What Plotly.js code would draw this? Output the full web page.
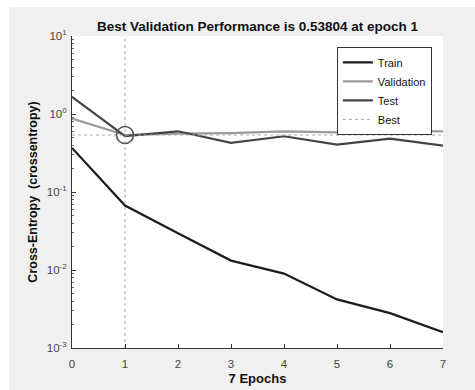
<!DOCTYPE html>
<html><head><meta charset="utf-8">
<script src="https://cdn.plot.ly/plotly-3.0.1.min.js"></script>
<style>
html,body{margin:0;padding:0;background:#ffffff;}
#chart{position:absolute;left:9px;top:7px;width:466px;height:383px;}
</style></head>
<body><div id="chart"></div>
<script>
const epochs = [0,1,2,3,4,5,6,7];
const train = [0.367,0.067,0.0296,0.0132,0.0090,0.0042,0.0028,0.00159];
const validation = [0.875,0.53804,0.56,0.57,0.60,0.58,0.61,0.60];
const test = [1.66,0.52,0.60,0.426,0.518,0.405,0.484,0.393];
const bestEpoch = 1;
const bestValue = 0.53804;
const yTickVals = [0.001,0.01,0.1,1,10];
const yTickText = ['10<sup>-3</sup>','10<sup>-2</sup>','10<sup>-1</sup>','10<sup>0</sup>','10<sup>1</sup>'];
const yMinorVals = [0.002,0.003,0.004,0.005,0.006,0.007,0.008,0.009,
  0.02,0.03,0.04,0.05,0.06,0.07,0.08,0.09,
  0.2,0.3,0.4,0.5,0.6,0.7,0.8,0.9,
  2,3,4,5,6,7,8,9];
const xTickVals = [0,1,2,3,4,5,6,7];

const traces = [
  {x:epochs,y:train,name:'Train',mode:'lines',line:{color:'#1c1c1c',width:2.2}},
  {x:epochs,y:validation,name:'Validation',mode:'lines',line:{color:'#9a9a9a',width:2.2}},
  {x:epochs,y:test,name:'Test',mode:'lines',line:{color:'#444444',width:2.2}},
  {x:[0,7],y:[bestValue,bestValue],name:'Best',mode:'lines',line:{color:'#aaaaaa',width:1,dash:'dot'}},
  {x:[bestEpoch,bestEpoch],y:[0.001,10],showlegend:false,mode:'lines',line:{color:'#aaaaaa',width:1,dash:'dot'},hoverinfo:'skip'},
  {x:[bestEpoch],y:[bestValue],showlegend:false,mode:'markers',marker:{symbol:'circle-open',size:17,color:'#555555',line:{width:1.6,color:'#555555'}}}
];

const layout = {
  width:466,height:383,
  paper_bgcolor:'#f0f0f0',plot_bgcolor:'#ffffff',
  margin:{l:63,r:32,t:29,b:42},
  font:{family:'Liberation Sans, Arial, sans-serif',color:'#262626'},
  title:{text:'<b>Best Validation Performance is 0.53804 at epoch 1</b>',font:{size:13.5,color:'#111111'},x:0.5,xref:'paper',xanchor:'center',y:0.95,yref:'container',yanchor:'middle'},
  xaxis:{range:[0,7],tickvals:xTickVals,ticks:'inside',ticklen:4,tickcolor:'#333',showline:true,linecolor:'#333',linewidth:1,showgrid:false,zeroline:false,
    tickfont:{size:11.5,color:'#444'},ticklabelstandoff:5,
    title:{text:'<b>7 Epochs</b>',font:{size:13,color:'#111'},standoff:5}},
  yaxis:{type:'log',range:[-3,1],tickvals:yTickVals,ticktext:yTickText,ticks:'inside',ticklen:4,tickcolor:'#333',showline:true,linecolor:'#333',linewidth:1,showgrid:false,zeroline:false,
    minor:{tickmode:'array',tickvals:yMinorVals,ticks:'inside',ticklen:2,tickcolor:'#666',showgrid:false},
    tickfont:{size:11.5,color:'#444'},ticklabelstandoff:2,
    title:{text:'<b>Cross-Entropy  (crossentropy)</b>',font:{size:12.5,color:'#111'},standoff:6}},
  legend:{x:0.97,xanchor:'right',y:0.965,yanchor:'top',bgcolor:'#ffffff',bordercolor:'#333',borderwidth:1,font:{size:11,color:'#111'},itemwidth:30,tracegroupgap:0},
  showlegend:true
};
Plotly.newPlot('chart',traces,layout,{displayModeBar:false,staticPlot:true});
</script></body></html>
